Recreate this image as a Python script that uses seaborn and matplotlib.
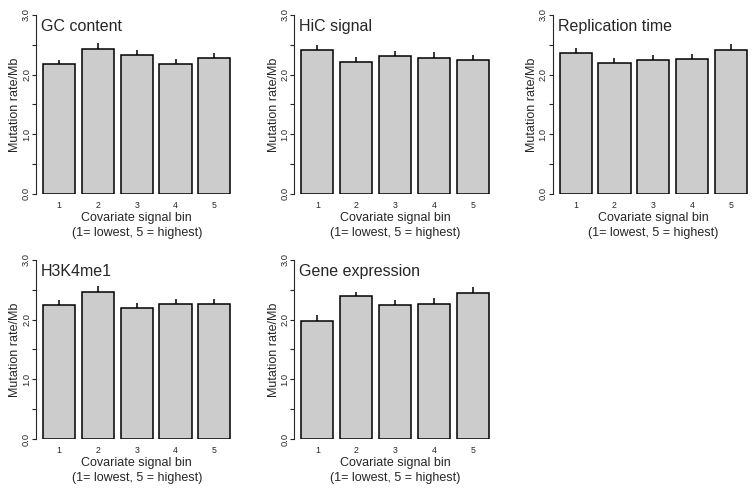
import numpy as np
import pandas as pd
import seaborn as sns
import matplotlib.pyplot as plt

# covariate bins and per-panel mutation rates (upper error bar lengths alongside)
bins = ["1", "2", "3", "4", "5"]
titles = ["GC content", "HiC signal", "Replication time", "H3K4me1", "Gene expression"]

gc_rate = [2.17, 2.43, 2.33, 2.17, 2.27]
gc_err = [0.08, 0.09, 0.08, 0.09, 0.09]
hic_rate = [2.41, 2.21, 2.31, 2.28, 2.24]
hic_err = [0.09, 0.09, 0.09, 0.09, 0.09]
rep_rate = [2.36, 2.20, 2.24, 2.26, 2.41]
rep_err = [0.09, 0.08, 0.09, 0.09, 0.10]
h3k_rate = [2.24, 2.47, 2.19, 2.26, 2.26]
h3k_err = [0.09, 0.09, 0.09, 0.09, 0.09]
expr_rate = [1.98, 2.39, 2.24, 2.27, 2.45]
expr_err = [0.09, 0.08, 0.09, 0.09, 0.09]

rates = [gc_rate, hic_rate, rep_rate, h3k_rate, expr_rate]
errs = [gc_err, hic_err, rep_err, h3k_err, expr_err]

sns.set_style("ticks")
plt.rcParams['font.family'] = ['Liberation Sans', 'DejaVu Sans']

fig, axes = plt.subplots(2, 3, figsize=(7.54, 4.95), dpi=100)
fig.subplots_adjust(left=0.0477, right=1.0, top=0.970, bottom=0.1131,
                    wspace=0.282, hspace=0.369)
axes[1, 2].remove()

width = 0.83
for ax, title, rate, err in zip(axes.flat, titles, rates, errs):
    df = pd.DataFrame({'bin': bins, 'rate': rate})
    sns.barplot(data=df, x='bin', y='rate', color='#cccccc', saturation=1,
                edgecolor='black', linewidth=1.1, width=width, ax=ax)
    # only the upper half of each error bar shows above the bar
    ax.errorbar(np.arange(len(bins)), rate, yerr=[np.zeros(len(err)), err],
                fmt='none', ecolor='black', elinewidth=1.1, capsize=0, zorder=3)

    ax.set_ylim(0, 3.0)
    ax.set_xlim(-width / 2 - 0.18, len(bins) - 1 + width / 2 + 0.18)
    ax.set_yticks(np.arange(0, 3.01, 0.5))
    ax.set_yticklabels(["0.0", "", "1.0", "", "2.0", "", "3.0"],
                       rotation=90, va='center', fontsize=6.7)
    ax.tick_params(axis='y', length=3, width=0.8, pad=0.5)
    ax.tick_params(axis='x', length=0, labelsize=6.3, pad=5)

    for s in ['top', 'right', 'bottom']:
        ax.spines[s].set_visible(False)
    ax.spines['left'].set_bounds(0, 3.0)
    ax.spines['left'].set_linewidth(0.8)

    ax.set_ylabel('Mutation rate/Mb', fontsize=9, labelpad=0.5)
    ax.set_xlabel('Covariate signal bin\n(1= lowest, 5 = highest)',
                  fontsize=9, labelpad=1.5, linespacing=1.35)
    ax.text(0.025, 0.975, title, transform=ax.transAxes, ha='left', va='top',
            fontsize=11.5)

fig.savefig('out.png', dpi=100)
